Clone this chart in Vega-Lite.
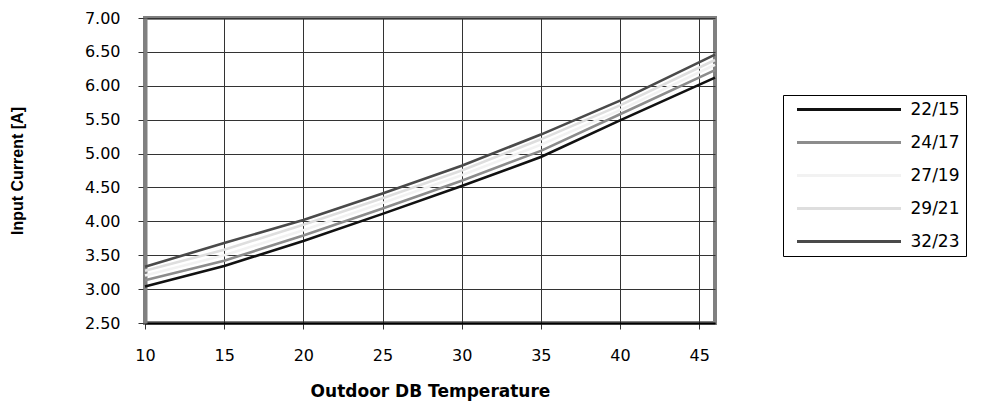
{
  "$schema": "https://vega.github.io/schema/vega-lite/v6.json",
  "width": 570,
  "height": 305,
  "autosize": {"type": "none"},
  "padding": {"left": 145, "top": 18, "right": 270, "bottom": 82},
  "background": "white",
  "config": {
    "view": {"stroke": "#808080", "strokeWidth": 4},
    "font": "DejaVu Sans"
  },
  "data": {
    "values": [
      {"temp": 10, "series": "22/15", "current": 3.04},
      {"temp": 15, "series": "22/15", "current": 3.34},
      {"temp": 20, "series": "22/15", "current": 3.71},
      {"temp": 25, "series": "22/15", "current": 4.11},
      {"temp": 30, "series": "22/15", "current": 4.52},
      {"temp": 35, "series": "22/15", "current": 4.95},
      {"temp": 40, "series": "22/15", "current": 5.49},
      {"temp": 46, "series": "22/15", "current": 6.12},
      {"temp": 10, "series": "24/17", "current": 3.13},
      {"temp": 15, "series": "24/17", "current": 3.42},
      {"temp": 20, "series": "24/17", "current": 3.79},
      {"temp": 25, "series": "24/17", "current": 4.19},
      {"temp": 30, "series": "24/17", "current": 4.60},
      {"temp": 35, "series": "24/17", "current": 5.04},
      {"temp": 40, "series": "24/17", "current": 5.58},
      {"temp": 46, "series": "24/17", "current": 6.23},
      {"temp": 10, "series": "27/19", "current": 3.20},
      {"temp": 15, "series": "27/19", "current": 3.50},
      {"temp": 20, "series": "27/19", "current": 3.87},
      {"temp": 25, "series": "27/19", "current": 4.27},
      {"temp": 30, "series": "27/19", "current": 4.68},
      {"temp": 35, "series": "27/19", "current": 5.13},
      {"temp": 40, "series": "27/19", "current": 5.64},
      {"temp": 46, "series": "27/19", "current": 6.31},
      {"temp": 10, "series": "29/21", "current": 3.27},
      {"temp": 15, "series": "29/21", "current": 3.58},
      {"temp": 20, "series": "29/21", "current": 3.95},
      {"temp": 25, "series": "29/21", "current": 4.34},
      {"temp": 30, "series": "29/21", "current": 4.75},
      {"temp": 35, "series": "29/21", "current": 5.21},
      {"temp": 40, "series": "29/21", "current": 5.71},
      {"temp": 46, "series": "29/21", "current": 6.38},
      {"temp": 10, "series": "32/23", "current": 3.33},
      {"temp": 15, "series": "32/23", "current": 3.68},
      {"temp": 20, "series": "32/23", "current": 4.02},
      {"temp": 25, "series": "32/23", "current": 4.41},
      {"temp": 30, "series": "32/23", "current": 4.82},
      {"temp": 35, "series": "32/23", "current": 5.28},
      {"temp": 40, "series": "32/23", "current": 5.78},
      {"temp": 46, "series": "32/23", "current": 6.46}
    ]
  },
  "mark": {"type": "line", "strokeWidth": 2.6},
  "encoding": {
    "x": {
      "field": "temp",
      "type": "quantitative",
      "scale": {"domain": [10, 46], "nice": false, "zero": false},
      "axis": {
        "title": "Outdoor DB Temperature",
        "values": [10, 15, 20, 25, 30, 35, 40, 45],
        "format": "d",
        "grid": true,
        "gridColor": "#333333",
        "gridWidth": 1,
        "gridOpacity": 1,
        "domainColor": "#000000",
        "domainWidth": 2,
        "tickColor": "#333333",
        "tickSize": 6,
        "labelFont": "DejaVu Sans",
        "labelFontSize": 16,
        "labelColor": "#000000",
        "labelPadding": 18,
        "labelFlush": false,
        "labelOverlap": false,
        "titleFont": "DejaVu Sans",
        "titleFontSize": 17,
        "titleFontWeight": "bold",
        "titleColor": "#000000",
        "titlePadding": 20
      }
    },
    "y": {
      "field": "current",
      "type": "quantitative",
      "scale": {"domain": [2.5, 7], "nice": false, "zero": false},
      "axis": {
        "title": "Input Current [A]",
        "values": [2.5, 3, 3.5, 4, 4.5, 5, 5.5, 6, 6.5, 7],
        "format": ".2f",
        "grid": true,
        "gridColor": "#333333",
        "gridWidth": 1,
        "gridOpacity": 1,
        "domainColor": "#808080",
        "domainWidth": 4,
        "tickColor": "#333333",
        "tickSize": 7,
        "labelFont": "DejaVu Sans",
        "labelFontSize": 16,
        "labelColor": "#000000",
        "labelPadding": 18,
        "labelOverlap": false,
        "titleFont": "Liberation Sans",
        "titleFontSize": 16,
        "titleFontWeight": "bold",
        "titleColor": "#000000",
        "titlePadding": 59
      }
    },
    "color": {
      "field": "series",
      "type": "nominal",
      "scale": {
        "domain": ["22/15", "24/17", "27/19", "29/21", "32/23"],
        "range": ["#111111", "#8c8c8c", "#f2f2f2", "#dedede", "#4a4a4a"]
      },
      "legend": {
        "orient": "none",
        "legendX": 638,
        "legendY": 77,
        "title": null,
        "symbolType": "M-8,0H8",
        "symbolSize": 169,
        "symbolStrokeWidth": 3,
        "symbolOffset": 51.5,
        "labelOffset": 53,
        "rowPadding": 15,
        "padding": 6,
        "strokeColor": "#000000",
        "fillColor": "#ffffff",
        "labelFont": "DejaVu Sans",
        "labelFontSize": 17,
        "labelColor": "#000000",
        "labelLimit": 200
      }
    }
  }
}
